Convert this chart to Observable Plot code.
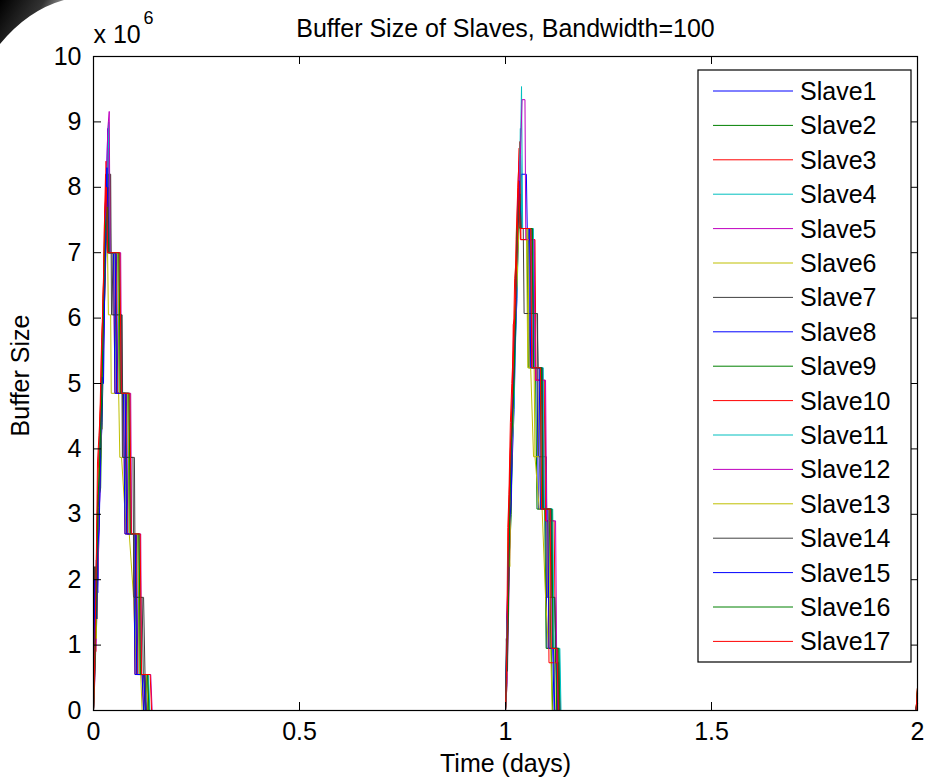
<!DOCTYPE html>
<html>
<head>
<meta charset="utf-8">
<script src="https://cdn.jsdelivr.net/npm/d3@7"></script>
<script src="https://cdn.jsdelivr.net/npm/@observablehq/plot@0.6"></script>
<style>
  html, body { margin: 0; padding: 0; background: #fff; }
  #chart { width: 927px; height: 777px; }
</style>
</head>
<body>
<div id="chart"></div>
<script>
// ---------- DATA (time in minutes within the day, value in units of 10^6) ----------
const seriesNames = ["Slave1","Slave2","Slave3","Slave4","Slave5","Slave6","Slave7","Slave8","Slave9",
  "Slave10","Slave11","Slave12","Slave13","Slave14","Slave15","Slave16","Slave17"];
const xTicks = [0, 0.5, 1, 1.5, 2];
const yTicks = [0, 1, 2, 3, 4, 5, 6, 7, 8, 9, 10];
const titleText = "Buffer Size of Slaves, Bandwidth=100";
const xLabel = "Time (days)";
const yLabel = "Buffer Size";

// day 0 (peak 1)
const s1Day1 = [[0,0],[5,1.4],[10,2.3],[15,2.0],[20,3.4],[25,4.5],[30,5.4],[35,5.9],[40,7.2],[50,8.9],[55,7.0],[80,7.0],[85,4.85],[115,4.85],[120,2.7],[150,2.7],[155,0.55],[180,0.55],[185,0]];
const s2Day1 = [[0,0],[5,0.8],[10,1.9],[15,3.3],[20,3.1],[25,4.2],[30,5.0],[35,6.5],[40,7.5],[45,8.2],[50,7.0],[75,7.0],[80,4.85],[110,4.85],[115,2.7],[145,2.7],[150,0.55],[175,0.55],[180,0]];
const s3Day1 = [[0,0],[3,1.5],[8,0.9],[12,2.6],[18,3.8],[22,4.4],[28,5.6],[33,6.1],[38,7.4],[42,8.2],[58,8.2],[60,7.0],[70,7.0],[75,4.85],[105,4.85],[110,2.7],[140,2.7],[145,0.55],[170,0.55],[175,0]];
const s4Day1 = [[0,0],[5,1.0],[10,1.7],[15,2.8],[20,3.9],[25,4.1],[30,5.3],[35,6.4],[40,7.1],[45,7.9],[52,8.8],[57,7.0],[90,7.0],[95,4.85],[125,4.85],[130,2.7],[160,2.7],[165,0.55],[190,0.55],[195,0]];
const s5Day1 = [[0,0],[5,0.5],[10,1.3],[15,2.4],[20,3.0],[25,3.8],[30,5.5],[35,5.7],[40,6.9],[45,8.0],[52,8.6],[57,7.0],[88,7.0],[93,4.85],[123,4.85],[128,2.7],[158,2.7],[163,0.55],[188,0.55],[193,0]];
const s6Day1 = [[0,0],[5,1.2],[10,1.9],[15,2.5],[20,3.6],[25,4.7],[30,4.3],[35,5.9],[40,6.8],[47,7.8],[52,6.05],[60,6.05],[62,4.85],[88,4.85],[92,3.87],[98,3.87],[115,2.7],[125,2.7],[140,1.73],[150,0.55],[165,0.55],[170,0]];
const s7Day1 = [[0,0],[3,2.2],[6,1.0],[10,1.6],[15,2.9],[20,3.2],[25,4.6],[30,5.0],[35,5.9],[40,6.4],[45,7.3],[52,8.2],[60,8.2],[63,6.05],[100,6.05],[103,3.87],[143,3.87],[146,1.73],[175,1.73],[180,0.55],[185,0.55],[190,0]];
const s8Day1 = [[0,0],[5,1.6],[10,2.1],[15,1.8],[20,3.0],[25,3.9],[30,4.4],[35,5.6],[40,6.9],[45,8.2],[50,7.0],[70,7.0],[75,4.85],[105,4.85],[110,2.7],[140,2.7],[145,0.55],[170,0.55],[175,0]];
const s9Day1 = [[0,0],[5,0.9],[10,2.0],[15,2.7],[20,3.3],[25,3.4],[30,4.8],[35,6.1],[40,6.6],[47,7.7],[52,7.0],[85,7.0],[90,4.85],[120,4.85],[125,2.7],[155,2.7],[160,0.55],[185,0.55],[190,0]];
const s10Day1 = [[0,0],[4,0.6],[8,1.8],[13,3.0],[18,3.7],[23,4.5],[28,5.1],[33,6.3],[38,6.9],[44,8.4],[49,7.0],[78,7.0],[83,4.85],[113,4.85],[118,2.7],[148,2.7],[153,0.55],[178,0.55],[183,0]];
const s11Day1 = [[0,0],[5,1.1],[10,1.5],[15,2.2],[20,3.5],[25,4.6],[30,4.9],[35,5.8],[40,7.0],[45,7.6],[53,9.0],[58,7.0],[92,7.0],[97,4.85],[127,4.85],[132,2.7],[162,2.7],[167,0.55],[192,0.55],[197,0]];
const s12Day1 = [[0,0],[5,0.7],[10,1.2],[15,2.0],[20,2.9],[25,4.1],[30,5.7],[35,5.5],[40,6.6],[45,8.0],[50,8.9],[55,9.16],[58,7.0],[95,7.0],[98,4.85],[130,4.85],[133,2.7],[165,2.7],[168,0.55],[200,0.55],[205,0]];
const s13Day1 = [[0,0],[5,1.3],[10,1.1],[15,2.6],[20,3.7],[25,3.9],[30,5.2],[35,6.0],[40,7.1],[48,7.9],[53,7.0],[86,7.0],[91,4.85],[121,4.85],[126,2.7],[156,2.7],[161,0.55],[186,0.55],[191,0]];
const s14Day1 = [[0,0],[4,1.9],[8,2.2],[12,1.4],[17,3.1],[22,3.8],[27,4.9],[32,5.4],[37,6.2],[42,7.0],[50,8.0],[55,7.0],[65,7.0],[68,6.05],[98,6.05],[101,3.87],[138,3.87],[141,1.73],[170,1.73],[174,0.55],[180,0.55],[184,0]];
const s15Day1 = [[0,0],[5,2.0],[10,1.4],[15,2.5],[20,2.8],[25,4.0],[30,5.1],[35,5.0],[40,6.7],[47,8.3],[52,7.0],[76,7.0],[81,4.85],[111,4.85],[116,2.7],[146,2.7],[151,0.55],[176,0.55],[181,0]];
const s16Day1 = [[0,0],[5,0.6],[10,1.7],[15,3.2],[20,3.6],[25,4.3],[30,5.0],[35,6.2],[40,7.3],[48,7.7],[53,7.0],[89,7.0],[94,4.85],[124,4.85],[129,2.7],[159,2.7],[164,0.55],[189,0.55],[194,0]];
const s17Day1 = [[0,0],[2,0.3],[6,1.2],[10,2.4],[14,3.8],[19,4.2],[24,4.6],[29,5.7],[34,6.4],[39,7.6],[45,8.0],[50,7.0],[92,7.0],[97,4.85],[127,4.85],[132,2.7],[163,2.7],[168,0.55],[198,0.55],[203,0]];

// day 1 (peak 2), minutes after the start of day 1; last point is the value at day 2
const s1Day2 = [[0,0],[5,0.4],[10,1.9],[15,2.6],[20,3.3],[25,4.0],[30,4.6],[35,5.7],[40,6.3],[45,7.6],[52,8.6],[57,7.37],[80,7.37],[85,5.24],[110,5.24],[115,3.08],[140,3.08],[145,0.95],[165,0.95],[170,0],[1435,0],[1440,0.1]];
const s2Day2 = [[0,0],[5,1.1],[10,2.5],[15,3.0],[20,3.6],[25,4.4],[30,5.3],[35,5.9],[40,6.6],[47,7.9],[52,7.37],[75,7.37],[80,5.24],[105,5.24],[110,3.08],[137,3.08],[142,0.95],[160,0.95],[165,0],[1435,0],[1440,0.3]];
const s3Day2 = [[0,0],[4,0.9],[8,2.8],[12,3.3],[17,4.4],[22,5.0],[27,5.5],[32,6.6],[37,6.9],[43,7.9],[48,8.6],[52,7.2],[100,7.2],[105,5.05],[135,5.05],[140,2.9],[170,2.9],[175,0.73],[185,0.73],[190,0],[1435,0],[1440,0.35]];
const s4Day2 = [[0,0],[5,0.6],[10,1.8],[15,2.9],[20,3.4],[25,4.3],[30,5.1],[35,5.6],[40,6.4],[45,7.1],[50,8.0],[56,9.54],[60,7.37],[95,7.37],[100,5.24],[130,5.24],[135,3.08],[165,3.08],[170,0.95],[188,0.95],[192,0],[1435,0],[1440,0.15]];
const s5Day2 = [[0,0],[5,1.5],[10,2.2],[15,2.7],[20,3.9],[25,4.6],[30,4.9],[35,6.0],[40,7.0],[48,8.4],[53,7.37],[90,7.37],[95,5.24],[125,5.24],[130,3.08],[160,3.08],[165,0.95],[182,0.95],[186,0],[1435,0],[1440,0.2]];
const s6Day2 = [[0,0],[3,0.2],[8,1.4],[13,2.9],[18,3.6],[23,4.4],[28,5.3],[33,5.9],[38,7.0],[45,7.7],[50,7.37],[73,7.37],[78,5.24],[88,5.24],[98,3.88],[103,3.88],[118,3.08],[128,3.08],[140,1.73],[150,0.95],[158,0.95],[163,0],[1435,0],[1440,0.1]];
const s7Day2 = [[0,0],[4,1.0],[8,2.0],[12,2.7],[17,3.6],[22,4.1],[27,5.0],[32,5.8],[37,6.5],[42,7.0],[50,7.8],[55,7.37],[62,7.37],[65,6.07],[112,6.07],[115,3.88],[143,3.88],[146,1.73],[172,1.73],[176,0.95],[180,0],[1435,0],[1440,0.25]];
const s8Day2 = [[0,0],[5,1.2],[10,2.0],[15,3.5],[20,3.7],[25,4.6],[30,5.6],[35,5.8],[40,6.9],[45,7.5],[55,8.2],[73,8.2],[76,7.37],[96,7.37],[100,5.24],[128,5.24],[132,3.08],[160,3.08],[164,0.95],[178,0.95],[182,0],[1435,0],[1440,0.2]];
const s9Day2 = [[0,0],[5,0.8],[10,2.2],[15,2.5],[20,3.0],[25,4.5],[30,5.0],[35,6.2],[40,6.9],[47,7.4],[52,7.37],[86,7.37],[91,5.24],[121,5.24],[126,3.08],[153,3.08],[158,0.95],[175,0.95],[179,0],[1435,0],[1440,0.3]];
const s10Day2 = [[0,0],[4,0.3],[8,1.7],[12,3.1],[17,4.0],[22,4.3],[27,5.9],[32,6.0],[37,7.2],[43,8.0],[50,8.7],[54,7.2],[103,7.2],[107,5.05],[138,5.05],[142,2.9],[148,2.9],[152,0.73],[183,0.73],[187,0],[1435,0],[1440,0.35]];
const s11Day2 = [[0,0],[5,1.3],[10,1.6],[15,3.0],[20,3.8],[25,4.2],[30,4.7],[35,5.9],[40,6.7],[45,7.4],[52,8.9],[57,7.37],[97,7.37],[101,5.24],[132,5.24],[136,3.08],[163,3.08],[167,0.95],[190,0.95],[194,0],[1435,0],[1440,0.15]];
const s12Day2 = [[0,0],[5,0.5],[10,1.3],[15,2.4],[20,3.5],[25,4.3],[30,5.7],[35,5.8],[40,7.0],[45,7.7],[52,8.5],[58,9.34],[68,9.34],[71,7.2],[100,7.2],[104,5.05],[140,5.05],[144,2.9],[175,2.9],[179,0.73],[186,0.73],[190,0],[1435,0],[1440,0.2]];
const s13Day2 = [[0,0],[5,0.7],[10,2.6],[15,2.2],[20,3.9],[25,4.2],[30,5.4],[35,6.3],[40,6.5],[48,7.6],[53,7.37],[78,7.37],[83,5.24],[100,5.24],[103,3.88],[118,3.88],[123,3.08],[150,3.08],[155,0.95],[170,0.95],[174,0],[1435,0],[1440,0.1]];
const s14Day2 = [[0,0],[3,1.1],[7,0.6],[12,2.3],[17,3.4],[22,4.5],[27,4.7],[32,5.6],[37,6.6],[42,7.2],[50,7.9],[55,7.37],[92,7.37],[96,6.07],[110,6.07],[114,5.24],[128,5.24],[132,3.08],[158,3.08],[162,1.73],[172,1.73],[176,0.95],[183,0.95],[187,0],[1435,0],[1440,0.25]];
const s15Day2 = [[0,0],[5,1.0],[10,2.4],[15,2.9],[20,3.2],[25,4.8],[30,5.2],[35,5.9],[40,7.1],[47,8.1],[52,7.37],[84,7.37],[88,5.24],[118,5.24],[122,3.08],[148,3.08],[152,0.95],[168,0.95],[172,0],[1435,0],[1440,0.2]];
const s16Day2 = [[0,0],[5,0.9],[10,1.5],[15,3.2],[20,4.1],[25,4.4],[30,5.1],[35,6.0],[40,7.3],[47,7.8],[52,7.37],[94,7.37],[98,5.24],[126,5.24],[130,3.08],[162,3.08],[166,0.95],[186,0.95],[190,0],[1435,0],[1440,0.35]];
const s17Day2 = [[0,0],[3,0.5],[7,1.6],[11,2.9],[15,3.6],[20,4.4],[25,5.0],[30,5.8],[35,6.3],[40,7.0],[46,8.1],[51,7.37],[88,7.37],[92,5.24],[122,5.24],[126,3.08],[156,3.08],[160,0.95],[180,0.95],[184,0],[1435,0],[1440,0.35]];

const day1Series = [s1Day1,s2Day1,s3Day1,s4Day1,s5Day1,s6Day1,s7Day1,s8Day1,s9Day1,s10Day1,s11Day1,s12Day1,s13Day1,s14Day1,s15Day1,s16Day1,s17Day1];
const day2Series = [s1Day2,s2Day2,s3Day2,s4Day2,s5Day2,s6Day2,s7Day2,s8Day2,s9Day2,s10Day2,s11Day2,s12Day2,s13Day2,s14Day2,s15Day2,s16Day2,s17Day2];

// ---------- STYLE ----------
const matlabCycle = ["#0000ff","#008000","#ff0000","#00bfbf","#bf00bf","#bfbf00","#404040"];
const seriesColors = seriesNames.map((_, i) => matlabCycle[i % matlabCycle.length]);
const FONT = "'Liberation Sans', Arial, Helvetica, sans-serif";
const FS = 25;

const W = 927, H = 777;
const M = {top: 56, right: 10, bottom: 67, left: 93};
const plotW = W - M.left - M.right;
const plotH = H - M.top - M.bottom;
const TICK = 8;

// ---------- TABLE ----------
const rows = [];
seriesNames.forEach((name, i) => {
  for (const [m, v] of day1Series[i]) rows.push({name, t: m / 1440, v});
  for (const [m, v] of day2Series[i]) rows.push({name, t: 1 + m / 1440, v});
});

const chart = Plot.plot({
  width: W, height: H,
  marginTop: M.top, marginRight: M.right, marginBottom: M.bottom, marginLeft: M.left,
  style: {fontFamily: FONT, fontSize: FS + "px", color: "#000", background: "#fff", overflow: "visible"},
  x: {domain: [0, 2], label: null},
  y: {domain: [0, 10], label: null},
  color: {domain: seriesNames, range: seriesColors},
  marks: [
    Plot.line(rows, {x: "t", y: "v", z: "name", stroke: "name", strokeWidth: 1, curve: "linear"}),
    Plot.frame({stroke: "#000", strokeWidth: 1.2}),
    // inward ticks on all four sides
    Plot.ruleX(xTicks, {x: d => d, insetTop: plotH - TICK, stroke: "#000"}),
    Plot.ruleX(xTicks, {x: d => d, insetBottom: plotH - TICK, stroke: "#000"}),
    Plot.ruleY(yTicks, {y: d => d, insetRight: plotW - TICK, stroke: "#000"}),
    Plot.ruleY(yTicks, {y: d => d, insetLeft: plotW - TICK, stroke: "#000"}),
    Plot.axisX(xTicks, {tickSize: 0, tickPadding: 12, fontSize: FS, tickFormat: d => String(d), label: null}),
    Plot.axisY(yTicks, {tickSize: 0, tickPadding: 12, fontSize: FS, tickFormat: d => String(d), label: null}),
    Plot.text([titleText], {frameAnchor: "top", lineAnchor: "middle", dy: -28, fontSize: FS, text: d => d}),
    Plot.text([xLabel], {frameAnchor: "bottom", lineAnchor: "middle", dy: 53, fontSize: FS, text: d => d}),
    Plot.text([yLabel], {frameAnchor: "left", lineAnchor: "middle", textAnchor: "middle", dx: -73, dy: -8, rotate: -90, fontSize: FS, text: d => d}),
    Plot.text(["x 10"], {frameAnchor: "top-left", lineAnchor: "middle", dy: -22, textAnchor: "start", fontSize: FS, text: d => d}),
    Plot.text(["6"], {frameAnchor: "top-left", lineAnchor: "middle", dx: 50, dy: -38, textAnchor: "start", fontSize: 18, text: d => d})
  ]
});
document.getElementById("chart").appendChild(chart);

// ---------- LEGEND (inside the axes, upper right) ----------
const svg = d3.select(chart);
const lg = {x: M.left + plotW - 6 - 213, y: M.top + 14, w: 213, h: 592};
const rowGap = 34.4, firstRow = 21;
const legend = svg.append("g").attr("font-family", FONT).attr("font-size", FS).attr("text-anchor", "start");
legend.append("rect").attr("x", lg.x).attr("y", lg.y).attr("width", lg.w).attr("height", lg.h)
  .attr("fill", "#fff").attr("stroke", "#000").attr("stroke-width", 1.2);
seriesNames.forEach((name, i) => {
  const cy = lg.y + firstRow + i * rowGap;
  legend.append("line").attr("x1", lg.x + 15).attr("x2", lg.x + 95).attr("y1", cy).attr("y2", cy)
    .attr("stroke", seriesColors[i]).attr("stroke-width", 1);
  legend.append("text").attr("x", lg.x + 102).attr("y", cy).attr("dy", "0.36em")
    .attr("text-anchor", "start").text(name);
});

// corner decoration of the source picture (dark swoosh, top-left)
const defs = svg.append("defs");
const grad = defs.append("linearGradient").attr("id", "swoosh").attr("x1", "0").attr("y1", "0").attr("x2", "1").attr("y2", "0.4");
grad.append("stop").attr("offset", "0").attr("stop-color", "#000");
grad.append("stop").attr("offset", "0.6").attr("stop-color", "#333");
grad.append("stop").attr("offset", "1").attr("stop-color", "#bbb");
svg.append("path").attr("d", "M0,0 L64,0 Q28,10 0,44 Z").attr("fill", "url(#swoosh)");
</script>
</body>
</html>
